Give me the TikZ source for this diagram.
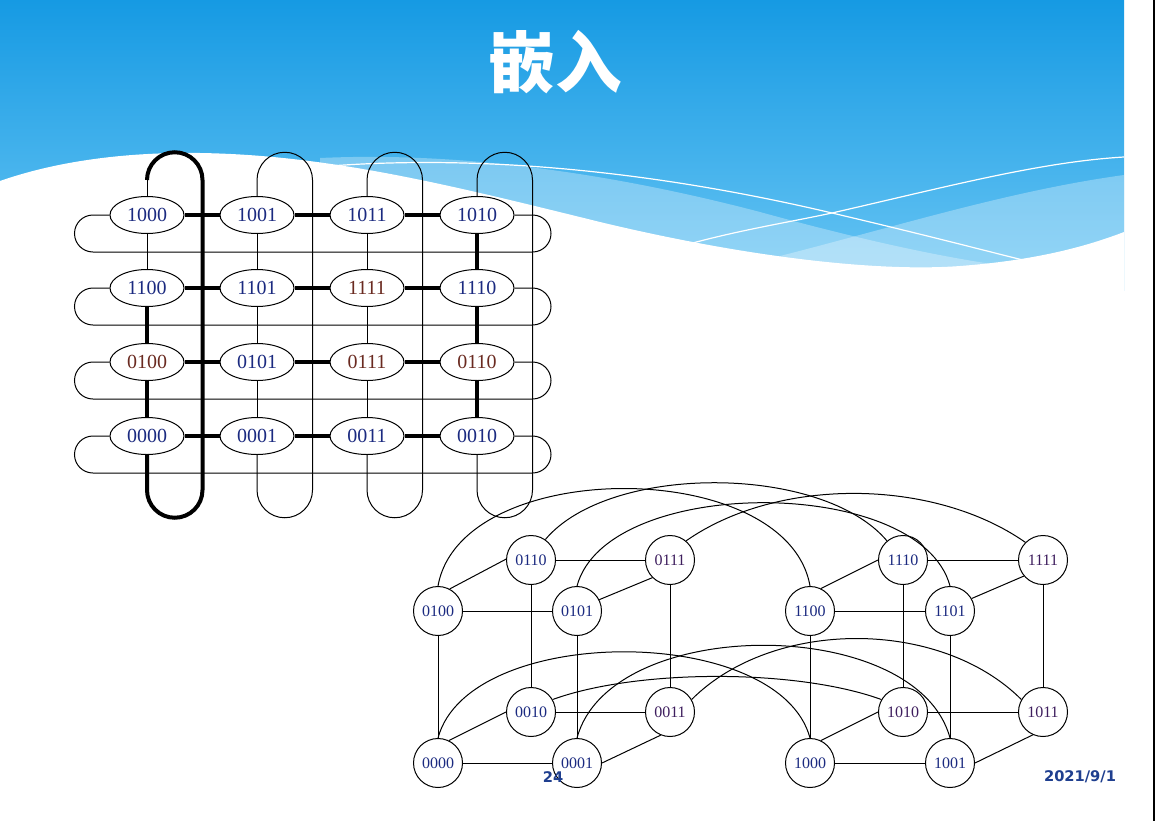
\documentclass[tikz,border=0pt]{standalone}
\usepackage{fontspec}
\setmainfont{Liberation Serif}
\newfontfamily\cjkfont{Noto Sans CJK SC}
\newfontfamily\footfont{DejaVu Sans}
\usetikzlibrary{shapes.geometric}
\definecolor{bgtop}{HTML}{169AE3}
\definecolor{bgbot}{HTML}{6AC6F4}
\definecolor{navy}{HTML}{1B2A80}
\definecolor{brownred}{HTML}{6A2A20}
\definecolor{plum}{HTML}{3E1E5E}
\definecolor{footblue}{HTML}{1F3F8F}
\begin{document}
\begin{tikzpicture}[x=0.75pt,y=-0.75pt,
  thinline/.style={line width=0.75pt,black},
  thickline/.style={line width=3pt,black},
  gnode/.style={ellipse,draw,line width=0.75pt,fill=white,minimum width=55.5pt,minimum height=27.75pt,inner sep=0pt,font=\fontsize{15}{17}\selectfont,text=navy},
  hnode/.style={circle,draw,line width=0.75pt,fill=white,minimum size=36.75pt,inner sep=0pt,font=\fontsize{12}{14}\selectfont,text=navy},
  wline/.style={white,line width=0.9pt},
  foot/.style={font=\footfont\bfseries\fontsize{11}{13}\selectfont,text=footblue}]
\useasboundingbox (0,0) rectangle (1155,821);
% ---------- background ----------
\fill[white] (0,0) rectangle (1155,821);
\shade[top color=bgtop,bottom color=bgbot] (0,0) rectangle (1124,290);
\fill[white,opacity=0.3] (320,158) .. controls (450,152) and (600,170) .. (760,212) .. controls (880,245) and (980,266) .. (1060,272) -- (1060,300) -- (320,300) -- cycle;
\fill[white,opacity=0.3] (1124,175) .. controls (1000,192) and (880,232) .. (740,266) -- (740,300) -- (1124,300) -- cycle;
\fill[white] (0,181) .. controls (60,160) and (130,152) .. (200,153) .. controls (330,155) and (450,185) .. (600,222) .. controls (750,258) and (880,272) .. (960,266) .. controls (1040,260) and (1090,245) .. (1124,232) -- (1124,300) -- (0,300) -- cycle;
\draw[wline] (330,166) .. controls (450,157) and (620,163) .. (832,213) .. controls (930,236) and (990,252) .. (1035,263);
\draw[wline] (689,244) .. controls (740,230) and (790,222) .. (832,213) .. controls (950,186) and (1040,162) .. (1124,157);
\fill[black] (1153,0) rectangle (1155,821);
% ---------- title ----------
\node[text=white,font=\cjkfont\bfseries\fontsize{50}{56}\selectfont] (title) at (555,62) {嵌入};
% ---------- grid (torus) ----------
\node[gnode] (g1000) at (147,215) {1000};
\node[gnode] (g1001) at (257,215) {1001};
\node[gnode] (g1011) at (367,215) {1011};
\node[gnode] (g1010) at (477,215) {1010};
\node[gnode] (g1100) at (147,288) {1100};
\node[gnode] (g1101) at (257,288) {1101};
\node[gnode,text=brownred] (g1111) at (367,288) {1111};
\node[gnode] (g1110) at (477,288) {1110};
\node[gnode,text=brownred] (g0100) at (147,362) {0100};
\node[gnode] (g0101) at (257,362) {0101};
\node[gnode,text=brownred] (g0111) at (367,362) {0111};
\node[gnode,text=brownred] (g0110) at (477,362) {0110};
\node[gnode] (g0000) at (147,436) {0000};
\node[gnode] (g0001) at (257,436) {0001};
\node[gnode] (g0011) at (367,436) {0011};
\node[gnode] (g0010) at (477,436) {0010};
% row wrap-around loops
\foreach \ry/\l/\r in {215/g1000/g1010, 288/g1100/g1110, 362/g0100/g0110, 436/g0000/g0010} {
  \draw[thinline] (\l.west) -- (93,\ry) arc[start angle=270,end angle=90,radius=18.5] -- (532.5,\ry+37) arc[start angle=90,end angle=-90,radius=18.5] -- (\r.east);
}
% column wrap-around loops
\foreach \cx/\t/\b in {257/g1001/g0001, 367/g1011/g0011, 477/g1010/g0010} {
  \draw[thinline] (\t.north) -- (\cx,180) arc[start angle=180,end angle=360,radius=27.75] -- (\cx+55.5,490) arc[start angle=0,end angle=180,radius=27.75] -- (\b.south);
}
\draw[thinline] (g1000.north) -- (147,180);
\draw[thickline] (147,180) arc[start angle=180,end angle=360,radius=27.75] -- (202.5,490) arc[start angle=0,end angle=180,radius=27.75] -- (g0000.south);
% horizontal edges (thick)
\foreach \a/\b in {g1000/g1001,g1001/g1011,g1011/g1010,g1100/g1101,g1101/g1111,g1111/g1110,g0100/g0101,g0101/g0111,g0111/g0110,g0000/g0001,g0001/g0011,g0011/g0010}
  \draw[thickline] (\a) -- (\b);
% vertical edges
\foreach \a/\b in {g1000/g1100,g1001/g1101,g1101/g0101,g0101/g0001,g1011/g1111,g1111/g0111,g0111/g0011}
  \draw[thinline] (\a) -- (\b);
\foreach \a/\b in {g1100/g0100,g0100/g0000,g1010/g1110,g1110/g0110,g0110/g0010}
  \draw[thickline] (\a) -- (\b);
% ---------- hypercube ----------
\node[hnode] (h0110) at (531,560) {0110};
\node[hnode,text=plum] (h0111) at (670,560) {0111};
\node[hnode] (h0100) at (438,611) {0100};
\node[hnode] (h0101) at (577,611) {0101};
\node[hnode] (h1110) at (903,560) {1110};
\node[hnode,text=plum] (h1111) at (1043,560) {1111};
\node[hnode] (h1100) at (810,611) {1100};
\node[hnode] (h1101) at (950,611) {1101};
\node[hnode] (h0010) at (531,712) {0010};
\node[hnode,text=plum] (h0011) at (670,712) {0011};
\node[hnode] (h0000) at (438,763) {0000};
\node[hnode] (h0001) at (577,763) {0001};
\node[hnode,text=plum] (h1010) at (903,712) {1010};
\node[hnode,text=plum] (h1011) at (1043,712) {1011};
\node[hnode] (h1000) at (810,763) {1000};
\node[hnode] (h1001) at (950,763) {1001};
% horizontal
\foreach \a/\b in {h0100/h0101,h0110/h0111,h1100/h1101,h1110/h1111,h0000/h0001,h0010/h0011,h1000/h1001,h1010/h1011}
  \draw[thinline] (\a) -- (\b);
% vertical
\foreach \a/\b in {h0100/h0000,h0110/h0010,h0101/h0001,h0111/h0011,h1100/h1000,h1110/h1010,h1101/h1001,h1111/h1011}
  \draw[thinline] (\a) -- (\b);
% diagonals
\draw[thinline] (h0100.62) -- (h0110.178);
\draw[thinline] (h0101.27) -- (h0111.225);
\draw[thinline] (h1100.64) -- (h1110.180);
\draw[thinline] (h1101.30) -- (h1111.220);
\draw[thinline] (h0000.64) -- (h0010.180);
\draw[thinline] (h0001.0) -- (h0011.248);
\draw[thinline] (h1000.64) -- (h1010.180);
\draw[thinline] (h1001.0) -- (h1011.246);
% arcs
\draw[thinline] (h0100.90) .. controls +(-80:132) and +(-100:132) .. (h1100.90);
\draw[thinline] (h0110.55) .. controls +(-50:100) and +(-130:100) .. (h1110.130);
\draw[thinline] (h0101.90) .. controls +(-75:115) and +(-105:115) .. (h1101.90);
\draw[thinline] (h0111.50) .. controls +(-35:112) and +(-145:112) .. (h1111.135);
\draw[thinline] (h0000.90) .. controls +(-75:119) and +(-105:119) .. (h1000.90);
\draw[thinline] (h0001.90) .. controls +(-75:128) and +(-105:128) .. (h1001.90);
\draw[thinline] (h0010.30) .. controls +(-20:90) and +(-160:90) .. (h1010.150);
\draw[thinline] (h0011.30) .. controls +(-45:115) and +(-135:115) .. (h1011.150);
% ---------- footer ----------
\node[foot] (pagenum) at (553,777) {24};
\node[foot] (date) at (1080,777) {2021/9/1};
\end{tikzpicture}
\end{document}
